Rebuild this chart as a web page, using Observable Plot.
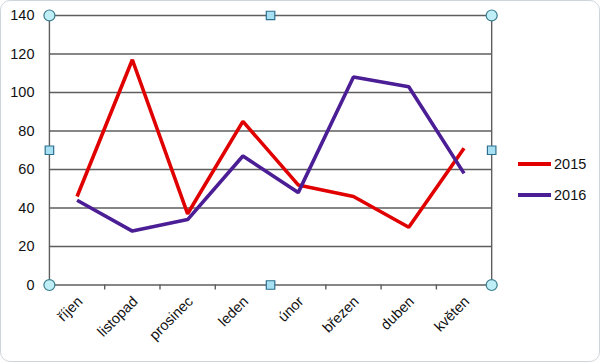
<!DOCTYPE html>
<html>
<head>
<meta charset="utf-8">
<script src="https://cdn.jsdelivr.net/npm/d3@7"></script>
<script src="https://cdn.jsdelivr.net/npm/@observablehq/plot@0.6"></script>
<style>
  html, body { margin: 0; padding: 0; background: #fff; }
  #wrap { position: relative; width: 600px; height: 362px; box-sizing: border-box;
          border: 1px solid #cfd6da; border-radius: 10px; overflow: hidden;
          font-family: "Liberation Sans", Arial, sans-serif; }
  #chart { position: absolute; left: -1px; top: -1px; }
  .legend { position: absolute; left: 517px; font-size: 14.5px; color: #111; display: flex; align-items: center; }
  .legend span.sw { display: inline-block; width: 33px; height: 4px; margin-right: 3px; }
</style>
</head>
<body>
<div id="wrap">
  <div id="chart"></div>
  <div id="legend"></div>
</div>
<script>
const months = ["říjen", "listopad", "prosinec", "leden", "únor", "březen", "duben", "květen"];
const values2015 = [46, 117, 37, 85, 52, 46, 30, 71];
const values2016 = [44, 28, 34, 67, 48, 108, 103, 58];
const seriesNames = ["2015", "2016"];
const seriesColors = ["#e00000", "#4b1e96"];
const yTicks = [0, 20, 40, 60, 80, 100, 120, 140];

const rows = [];
months.forEach((m, i) => {
  rows.push({i, month: m, series: "2015", value: values2015[i]});
  rows.push({i, month: m, series: "2016", value: values2016[i]});
});
const idx = months.map((m, i) => i);
const bounds = d3.range(months.length + 1).map(i => i - 0.5);

const handleFill = "#bfeef6", handleStroke = "#3a7b8c";
const corners = ["top-left", "top-right", "bottom-left", "bottom-right"];
const mids = ["top", "left", "right", "bottom"];

const chart = Plot.plot({
  width: 600,
  height: 362,
  marginLeft: 49,
  marginRight: 108,
  marginTop: 15,
  marginBottom: 77,
  style: {fontFamily: "Liberation Sans, Arial, sans-serif", fontSize: "14px", color: "#111", background: "transparent"},
  x: {type: "linear", domain: [-0.5, months.length - 0.5], axis: null},
  y: {domain: [0, 140], axis: null},
  color: {domain: seriesNames, range: seriesColors},
  marks: [
    Plot.ruleY(yTicks, {stroke: "#5e5e5e", strokeWidth: 1.4}),
    Plot.ruleX([-0.5, months.length - 0.5], {stroke: "#5e5e5e", strokeWidth: 1.4}),
    Plot.axisY({ticks: yTicks, tickSize: 0, tickPadding: 15, fontSize: 14.5, label: null}),
    Plot.axisX({ticks: bounds, tickSize: 5, tickFormat: () => "", stroke: "#5e5e5e", strokeWidth: 1.4, label: null}),
    Plot.axisX({ticks: idx, tickSize: 0, tickPadding: 8, tickRotate: -45, tickFormat: i => months[i], fontSize: 14.5, dx: 3, dy: 6, label: null}),
    Plot.line(rows.filter(d => d.series === "2015"), {x: "i", y: "value", stroke: "series", strokeWidth: 3.6, strokeLinejoin: "miter", strokeLinecap: "butt"}),
    Plot.line(rows.filter(d => d.series === "2016"), {x: "i", y: "value", stroke: "series", strokeWidth: 3.6, strokeLinejoin: "miter", strokeLinecap: "butt"}),
    ...corners.map(a => Plot.dot([0], {frameAnchor: a, r: 5.5, fill: handleFill, stroke: handleStroke, strokeWidth: 1.2})),
    ...mids.map(a => Plot.dot([0], {frameAnchor: a, r: 4.8, symbol: "square", fill: "#a7e0f2", stroke: "#2e6f8e", strokeWidth: 1.2}))
  ]
});
document.getElementById("chart").appendChild(chart);

const leg = document.getElementById("legend");
seriesNames.forEach((s, k) => {
  const el = document.createElement("div");
  el.className = "legend";
  el.style.top = (155 + k * 31) + "px";
  el.innerHTML = `<span class="sw" style="background:${seriesColors[k]}"></span>${s}`;
  leg.appendChild(el);
});
</script>
</body>
</html>
